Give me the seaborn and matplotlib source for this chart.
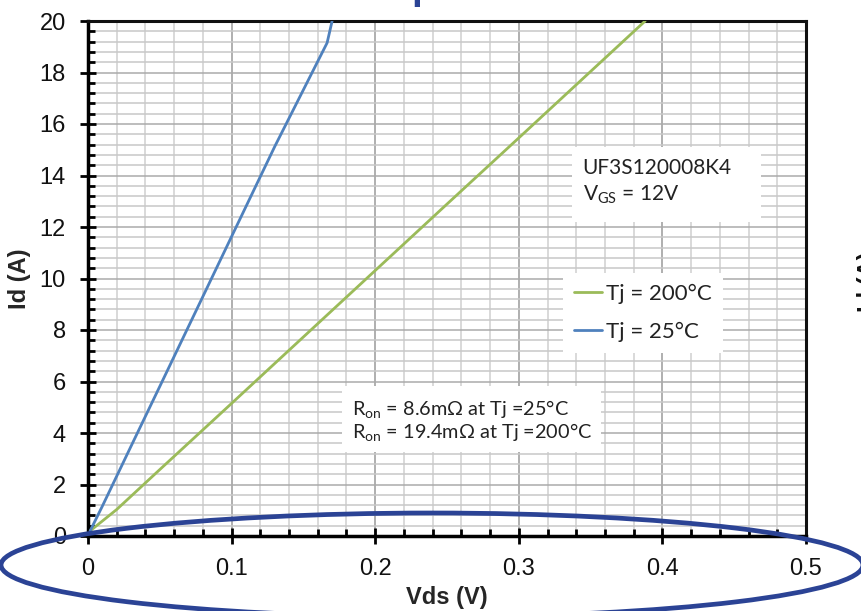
import numpy as np
import pandas as pd
import seaborn as sns
import matplotlib
matplotlib.use("Agg")
import matplotlib.pyplot as plt
from matplotlib.patches import Ellipse, Rectangle
from matplotlib.ticker import MultipleLocator, FixedLocator

# Output characteristics, Id vs Vds at VGS = 12 V
vds_25 = [0.0015, 0.01, 0.03, 0.05, 0.08, 0.10, 0.13, 0.1665, 0.170]
id_25 = [0.2, 1.16, 3.49, 5.81, 9.30, 11.63, 15.12, 19.15, 20.0]

vds_200 = [0.0015, 0.02, 0.05, 0.10, 0.15, 0.20, 0.25, 0.30, 0.35, 0.388]
id_200 = [0.2, 1.03, 2.58, 5.15, 7.73, 10.31, 12.89, 15.46, 18.04, 20.0]

series_200 = "Tj = 200°C"
series_25 = "Tj = 25°C"
x_ticks = [0, 0.1, 0.2, 0.3, 0.4, 0.5]
x_tick_labels = ["0", "0.1", "0.2", "0.3", "0.4", "0.5"]
y_ticks = [0, 2, 4, 6, 8, 10, 12, 14, 16, 18, 20]

df = pd.concat([
    pd.DataFrame({"Vds": vds_200, "Id": id_200, "Tj": series_200}),
    pd.DataFrame({"Vds": vds_25, "Id": id_25, "Tj": series_25}),
], ignore_index=True)

sns.set_theme(style="white")
plt.rcParams["font.family"] = ["Liberation Sans", "DejaVu Sans"]
plt.rcParams["mathtext.fontset"] = "custom"
plt.rcParams["mathtext.rm"] = "Lato"

fig = plt.figure(figsize=(8.62, 6.11), dpi=100)
ax = fig.add_axes([88 / 862, 1 - 536 / 611, (806 - 88) / 862, (536 - 21) / 611])

palette = {series_200: "#9bbb59", series_25: "#4f81bd"}
sns.lineplot(data=df, x="Vds", y="Id", hue="Tj", palette=palette,
             hue_order=[series_200, series_25], sort=False,
             estimator=None, linewidth=2.0, ax=ax, legend=False, zorder=3)

ax.set_xlim(0, 0.5)
ax.set_ylim(0, 20)

# grid: fine lines every 0.02 V / 0.4 A, heavier at the labelled ticks
ax.xaxis.set_major_locator(FixedLocator(x_ticks))
ax.set_xticklabels(x_tick_labels)
ax.xaxis.set_minor_locator(MultipleLocator(0.02))
ax.yaxis.set_major_locator(FixedLocator(y_ticks))
ax.yaxis.set_minor_locator(MultipleLocator(0.4))
ax.grid(which="minor", axis="x", color="#cfcfcf", linewidth=1.1)
ax.grid(which="major", axis="x", color="#9a9a9a", linewidth=1.1)
ax.grid(which="minor", axis="y", color="#c8c8c8", linewidth=1.1)
ax.grid(which="major", axis="y", color="#ababab", linewidth=1.1)
ax.set_axisbelow(True)

ax.tick_params(which="major", direction="inout", length=12, width=2,
               color="black", labelsize=17, labelcolor="#111111")
ax.tick_params(which="minor", direction="in", length=5, width=2,
               color="black")
ax.tick_params(axis="x", which="major", pad=10)
ax.tick_params(axis="y", which="major", pad=10)
ax.tick_params(axis="x", which="both", bottom=True)
ax.tick_params(axis="y", which="both", left=True)

for side in ["left", "bottom"]:
    ax.spines[side].set_color("black")
    ax.spines[side].set_linewidth(2.5)
for side in ["top", "right"]:
    ax.spines[side].set_color("#111111")
    ax.spines[side].set_linewidth(2.2)

ax.set_xlabel("Vds (V)", fontsize=17, fontweight="bold", labelpad=4)
ax.set_ylabel("Id (A)", fontsize=17, fontweight="bold", labelpad=6)

note_font = ["Lato", "DejaVu Sans"]
note_color = "#222222"

# device label box
ax.add_patch(Rectangle((0.337, 12.2), 0.132, 2.9, facecolor="white",
                       edgecolor="none", zorder=4))
ax.text(0.3445, 14.31, "UF3S120008K4", fontsize=15, family=note_font,
        color=note_color, va="center", ha="left", zorder=5)
ax.text(0.3445, 13.25, "$\\mathregular{V_{GS}}$ = 12V", fontsize=15,
        family=note_font, color=note_color, va="center", ha="left",
        zorder=5)

# on-resistance box
ax.add_patch(Rectangle((0.177, 3.26), 0.18, 2.57, facecolor="white",
                       edgecolor="none", zorder=4))
ax.text(0.184, 4.95, "$\\mathregular{R_{on}}$ = 8.6m$\\mathregular{\\Omega}$ at Tj =25°C",
        fontsize=14.3, family=note_font, color=note_color, va="center",
        ha="left", zorder=5)
ax.text(0.184, 4.05, "$\\mathregular{R_{on}}$ = 19.4m$\\mathregular{\\Omega}$ at Tj =200°C",
        fontsize=14.3, family=note_font, color=note_color, va="center",
        ha="left", zorder=5)

leg_handles = [plt.Line2D([], [], color=palette[series_200], linewidth=2.0),
               plt.Line2D([], [], color=palette[series_25], linewidth=2.0)]
leg = ax.legend(leg_handles, [series_200, series_25],
                loc="upper left", bbox_to_anchor=((563 - 88) / 718, (536 - 273) / 515),
                frameon=True, fancybox=False, facecolor="white",
                edgecolor="none", framealpha=1.0, handlelength=1.25,
                handletextpad=0.2, borderpad=0.5, borderaxespad=0.0,
                labelspacing=0.8,
                prop={"family": note_font, "size": 16})
leg.set_zorder(6)
for t in leg.get_texts():
    t.set_color(note_color)

# highlight ring round the Vds axis
ring = Ellipse((432 / 862, 1 - 565 / 611), width=862 / 862, height=104 / 611,
               transform=fig.transFigure, facecolor="none",
               edgecolor="#2b4395", linewidth=3.4, zorder=10, clip_on=False)
fig.add_artist(ring)

# neighbouring slide content at the edges
fig.text(411 / 862, 1 + 1 / 611, "p", fontsize=28, color="#2b4395",
         fontweight="bold", ha="left", va="baseline")
fig.text(857 / 862, 1 - 282 / 611, "Id (A)", fontsize=17,
         fontweight="bold", rotation=90, ha="left", va="center",
         color="#111111")

fig.savefig("out.png", dpi=100)
